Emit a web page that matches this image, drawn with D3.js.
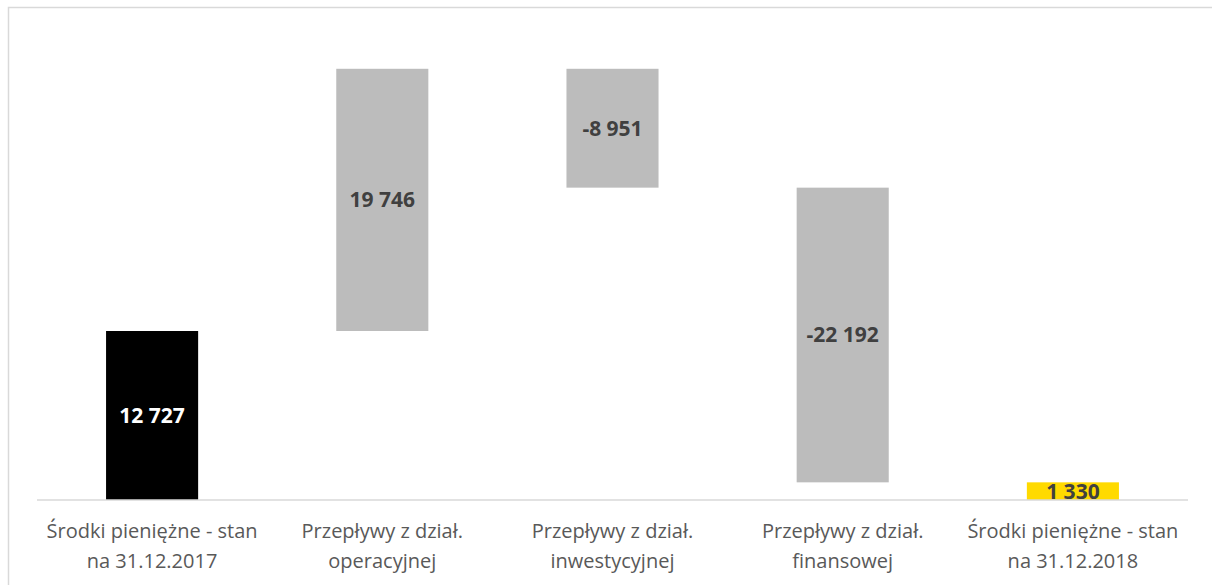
<!DOCTYPE html>
<html><head><meta charset="utf-8">
<script src="https://cdn.jsdelivr.net/npm/d3@7"></script>
<style>body{margin:0;background:#fff}svg{display:block}</style>
</head><body><svg id="c" width="1212" height="585"></svg>
<script>
const categories = [
  ["Środki pieniężne - stan", "na 31.12.2017"],
  ["Przepływy z dział.", "operacyjnej"],
  ["Przepływy z dział.", "inwestycyjnej"],
  ["Przepływy z dział.", "finansowej"],
  ["Środki pieniężne - stan", "na 31.12.2018"]
];
const changes = [12727, 19746, -8951, -22192, 1330];
const kinds = ["total", "delta", "delta", "delta", "total"];
const labels = ["12 727", "19 746", "-8 951", "-22 192", "1 330"];
const fills = ["#000000", "#BCBCBC", "#BCBCBC", "#BCBCBC", "#FFDA00"];
const labelColors = ["#FFFFFF", "#404040", "#404040", "#404040", "#404040"];

// build waterfall extents
let run = 0;
const bars = changes.map((v, i) => {
  let lo, hi;
  if (kinds[i] === "total") { lo = 0; hi = v; run = v; }
  else { const s = run; run = s + v; lo = Math.min(s, run); hi = Math.max(s, run); }
  return { i, lo, hi };
});

const svg = d3.select("#c");
svg.append("rect").attr("x", 8.5).attr("y", 7.5).attr("width", 1300).attr("height", 700)
  .attr("fill", "none").attr("stroke", "#D9D9D9").attr("stroke-width", 1.5);

const x = d3.scaleBand().domain(d3.range(categories.length)).range([37, 1188])
  .paddingInner(0.6).paddingOuter(0.3);
const y = d3.scaleLinear().domain([0, 35000]).range([500, 500 - 35000 * (169 / 12727)]);

svg.selectAll("rect.bar").data(bars).enter().append("rect").attr("class", "bar")
  .attr("x", d => x(d.i)).attr("width", x.bandwidth())
  .attr("y", d => y(d.hi)).attr("height", d => y(d.lo) - y(d.hi))
  .attr("fill", d => fills[d.i]);

svg.append("line").attr("x1", 37).attr("x2", 1188).attr("y1", y(0)).attr("y2", y(0))
  .attr("stroke", "#D9D9D9").attr("stroke-width", 1.5);

svg.selectAll("text.val").data(bars).enter().append("text").attr("class", "val")
  .attr("x", d => x(d.i) + x.bandwidth() / 2)
  .attr("y", d => (y(d.lo) + y(d.hi)) / 2)
  .attr("dy", "0.35em").attr("text-anchor", "middle")
  .attr("font-family", "'Open Sans', sans-serif").attr("font-weight", "bold").attr("font-size", 21)
  .attr("fill", d => labelColors[d.i]).text(d => labels[d.i]);

const cat = svg.selectAll("text.cat").data(categories).enter().append("text").attr("class", "cat")
  .attr("text-anchor", "middle").attr("font-family", "'Open Sans', sans-serif")
  .attr("font-size", 20).attr("fill", "#595959");
cat.each(function(d, i) {
  const t = d3.select(this);
  d.forEach((line, k) => {
    t.append("tspan").attr("x", x(i) + x.bandwidth() / 2).attr("y", 538 + k * 30).text(line);
  });
});
</script></body></html>
